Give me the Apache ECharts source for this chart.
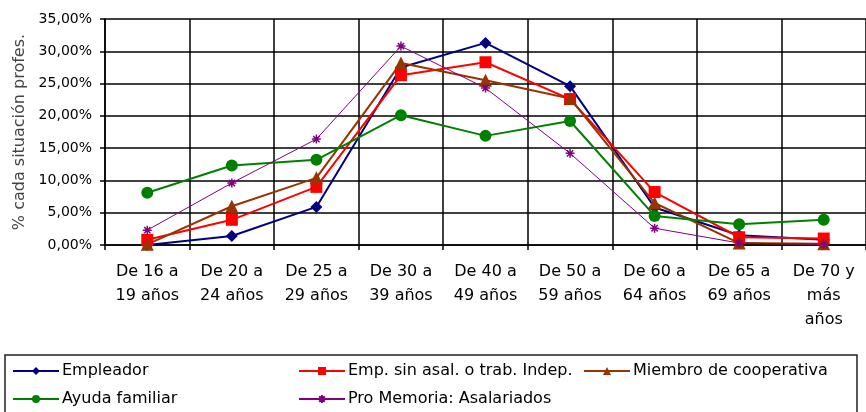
<!DOCTYPE html>
<html>
<head>
<meta charset="utf-8">
<script src="https://cdn.jsdelivr.net/npm/echarts@6/dist/echarts.min.js"></script>
<style>
  html, body { margin: 0; padding: 0; background: #fff; }
  #chart { width: 866px; height: 412px; }
</style>
</head>
<body>
<div id="chart"></div>
<script>
// categorias de edad
var edades = ['De 16 a\n19 años', 'De 20 a\n24 años', 'De 25 a\n29 años', 'De 30 a\n39 años',
    'De 40 a\n49 años', 'De 50 a\n59 años', 'De 60 a\n64 años', 'De 65 a\n69 años', 'De 70 y\nmás\naños'];

// % cada situacion profesional
var empleador   = [0.0, 1.4, 5.9, 27.5, 31.3, 24.6, 5.8, 1.5, 0.8];
var empSinAsal  = [0.8, 3.9, 9.0, 26.3, 28.3, 22.6, 8.2, 1.2, 1.0];
var miembroCoop = [0.1, 6.0, 10.4, 28.2, 25.5, 22.7, 6.5, 0.3, 0.2];
var ayudaFam    = [8.1, 12.3, 13.2, 20.1, 16.9, 19.2, 4.5, 3.2, 3.9];
var asalariados = [2.3, 9.6, 16.4, 30.8, 24.3, 14.2, 2.6, 0.3, 0.1];

var FONT = 'DejaVu Sans';
var asterisco = 'path://M0,5L10,5M5,0L5,10M1.5,1.5L8.5,8.5M8.5,1.5L1.5,8.5';

var myChart = echarts.init(document.getElementById('chart'));

function leyenda(nombre, left, top) {
    return {
        data: [nombre],
        left: left,
        top: top,
        padding: 0,
        itemWidth: 46,
        itemHeight: 10,
        itemGap: 0,
        selectedMode: false,
        textStyle: { fontFamily: FONT, fontSize: 16, color: '#000', padding: [0, 0, 0, -2] }
    };
}

myChart.setOption({
    animation: false,
    backgroundColor: '#fff',
    grid: { left: 105, top: 19, width: 762, height: 226 },
    legend: [
        leyenda('Empleador', 12, 363),
        leyenda('Emp. sin asal. o trab. Indep.', 298, 363),
        leyenda('Miembro de cooperativa', 583, 363),
        leyenda('Ayuda familiar', 12, 391),
        leyenda('Pro Memoria: Asalariados', 298, 391)
    ],
    graphic: [{
        type: 'rect',
        shape: { x: 5, y: 355, width: 852, height: 70 },
        style: { fill: 'none', stroke: '#222', lineWidth: 1.5 },
        silent: true
    }],
    xAxis: {
        type: 'category',
        data: edades,
        boundaryGap: true,
        axisLine: { lineStyle: { color: '#000', width: 1.5 } },
        axisTick: { show: true, length: 5, lineStyle: { color: '#000', width: 1.5 } },
        splitLine: { show: true, lineStyle: { color: '#000', width: 1.5 } },
        axisLabel: {
            interval: 0,
            margin: 15,
            fontFamily: FONT,
            fontSize: 16,
            lineHeight: 24,
            color: '#000'
        }
    },
    yAxis: {
        type: 'value',
        min: 0,
        max: 35,
        interval: 5,
        name: '% cada situación profes.',
        nameLocation: 'middle',
        nameGap: 77,
        nameRotate: 90,
        nameTextStyle: { fontFamily: FONT, fontSize: 16, color: '#444' },
        axisLine: { show: true, lineStyle: { color: '#000', width: 1.5 } },
        axisTick: { show: true, length: 5, lineStyle: { color: '#000', width: 1.5 } },
        splitLine: { show: true, lineStyle: { color: '#000', width: 1.5 } },
        axisLabel: {
            margin: 13,
            fontFamily: FONT,
            fontSize: 14,
            color: '#000',
            formatter: function (v) { return v.toFixed(2).replace('.', ',') + '%'; }
        }
    },
    series: [
        {
            name: 'Empleador', type: 'line', data: empleador,
            symbol: 'diamond', symbolSize: 12,
            lineStyle: { color: '#000080', width: 2 },
            itemStyle: { color: '#000080' }
        },
        {
            name: 'Emp. sin asal. o trab. Indep.', type: 'line', data: empSinAsal,
            symbol: 'rect', symbolSize: 12,
            lineStyle: { color: '#ff0000', width: 2 },
            itemStyle: { color: '#ff0000' }
        },
        {
            name: 'Miembro de cooperativa', type: 'line', data: miembroCoop,
            symbol: 'triangle', symbolSize: 13,
            lineStyle: { color: '#993300', width: 2 },
            itemStyle: { color: '#993300' }
        },
        {
            name: 'Ayuda familiar', type: 'line', data: ayudaFam,
            symbol: 'circle', symbolSize: 12,
            lineStyle: { color: '#008000', width: 2 },
            itemStyle: { color: '#008000' }
        },
        {
            name: 'Pro Memoria: Asalariados', type: 'line', data: asalariados,
            symbol: asterisco, symbolSize: 9,
            lineStyle: { color: '#800080', width: 1 },
            itemStyle: { color: '#800080', borderColor: '#800080', borderWidth: 1.5 }
        }
    ]
});
</script>
</body>
</html>
